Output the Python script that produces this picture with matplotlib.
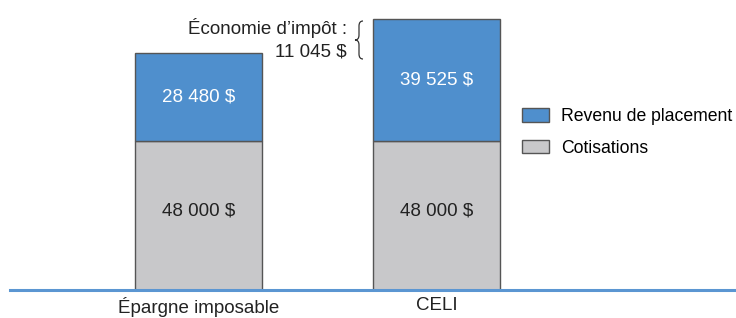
import matplotlib.pyplot as plt
from matplotlib.patches import Patch, PathPatch
from matplotlib.path import Path

plt.rcParams['font.family'] = ['Liberation Sans', 'DejaVu Sans']

categories = ['Épargne imposable', 'CELI']
cotisations = [48000, 48000]
revenu = [28480, 39525]
economie = 11045

blue = '#4f8fcd'
gray = '#c8c8ca'
edge = '#555555'
txt = '#222222'
fs = 13.5

W, H = 736, 318
fig = plt.figure(figsize=(W / 100, H / 100), dpi=100)
# axes placed in pixels: baseline at y=290, left at x=10
ax = fig.add_axes([10 / W, 28 / H, 1 - 10 / W, 279 / H])
ax.set_xlim(-0.792, 2.258)
ax.set_ylim(0, 90000)

x = range(len(categories))
ax.bar(x, cotisations, width=0.534, color=gray, edgecolor=edge, linewidth=1)
ax.bar(x, revenu, bottom=cotisations, width=0.534, color=blue, edgecolor=edge, linewidth=1)


def fmt(v):
    return f'{v:,}'.replace(',', ' ') + ' $'


for i in x:
    ax.text(i, cotisations[i] / 2 + 1500, fmt(cotisations[i]), ha='center', va='center',
            fontsize=fs, color=txt)
    ax.text(i, cotisations[i] + revenu[i] / 2, fmt(revenu[i]), ha='center', va='center',
            fontsize=fs, color='white')

for s in ax.spines.values():
    s.set_visible(False)
ax.axhline(0, color='#5b96d2', linewidth=2.2, clip_on=False)
ax.set_yticks([])
ax.set_xticks(list(x))
ax.set_xticklabels(categories, fontsize=fs, color=txt)
ax.tick_params(axis='x', length=0, pad=5)

# tax savings annotation
fig.text(347 / W, 1 - 28 / H, 'Économie d’impôt :', ha='right', va='center', fontsize=fs, color=txt)
fig.text(347 / W, 1 - 52 / H, fmt(economie), ha='right', va='center', fontsize=fs, color=txt)

# thin curly brace drawn in pixel coordinates (y from top)
bx, top, mid, bot = 359, 21, 40, 59
pts = [(bx + 4, top), (bx, top), (bx, top + 5), (bx, mid - 5), (bx, mid), (bx - 4, mid),
       (bx, mid), (bx, mid + 5), (bx, bot - 5), (bx, bot), (bx + 4, bot)]
codes = [Path.MOVETO, Path.CURVE3, Path.CURVE3, Path.LINETO, Path.CURVE3, Path.CURVE3,
         Path.CURVE3, Path.CURVE3, Path.LINETO, Path.CURVE3, Path.CURVE3]
pts = [(px / W, 1 - py / H) for px, py in pts]
fig.add_artist(PathPatch(Path(pts, codes), facecolor='none', edgecolor='#333333',
                         linewidth=0.9, transform=fig.transFigure))

handles = [Patch(facecolor=blue, edgecolor=edge, linewidth=1),
           Patch(facecolor=gray, edgecolor=edge, linewidth=1)]
fig.legend(handles, ['Revenu de placement', 'Cotisations'], loc='upper left',
           bbox_to_anchor=(522 / W, 1 - 108 / H), frameon=False, fontsize=12.7,
           handlelength=1.53, handleheight=0.8, handletextpad=0.68, labelspacing=0.83,
           borderpad=0, borderaxespad=0)

fig.savefig('out.png', dpi=100)
